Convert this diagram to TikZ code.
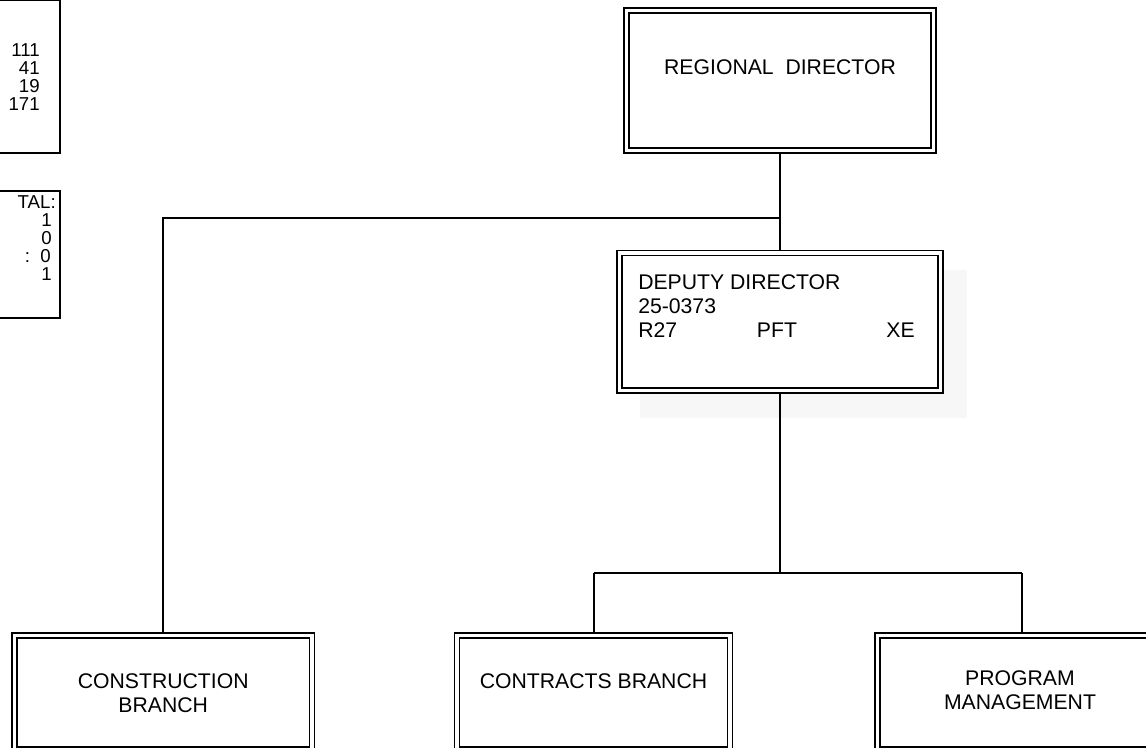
\documentclass[tikz,border=0pt]{standalone}
\usepackage{fontspec}
\setmainfont{Liberation Sans}
\usetikzlibrary{backgrounds}
\begin{document}
\begin{tikzpicture}[x=0.75pt,y=-0.75pt,
  conn/.style={line width=1.5pt, black},
  dbox/.style={draw, double, line width=1.25pt, double distance=2.5pt, fill=white, inner sep=0pt, outer sep=0pt},
  sbox/.style={draw, line width=1.1pt, fill=white, inner sep=0pt, outer sep=0pt},
  shade/.style={fill=black!3, draw=none, inner sep=0pt},
  lbl/.style={font=\fontsize{15.9}{18}\selectfont, inner sep=0pt},
  sml/.style={font=\fontsize{14}{14}\selectfont, inner sep=0pt, anchor=base east}]
\useasboundingbox (0,0) rectangle (1146,748);
\begin{scope}
\clip (0,0) rectangle (1146,748);
% left partial boxes
\node[sbox, minimum width={110*0.75pt}, minimum height={153*0.75pt}] (lb1) at (5,76.5) {};
\node[sbox, minimum width={110*0.75pt}, minimum height={127*0.75pt}] (lb2) at (5,254.5) {};
\node[sml] (n111) at (40,57) {111};
\node[sml] (n41) at (40,75) {41};
\node[sml] (n19) at (40,93) {19};
\node[sml] (n171) at (40,111) {171};
\node[sml] (ntal) at (56,208.5) {TAL:};
\node[sml] (na1) at (52,226.5) {1};
\node[sml] (na0) at (52,244.5) {0};
\node[sml] (nb0) at (51,262.5) {:~~0};
\node[sml] (nb1) at (52,280.5) {1};
% boxes
\node[dbox, minimum width={307*0.75pt}, minimum height={140*0.75pt}] (rd) at (780,80.5) {};
\node[dbox, minimum width={321*0.75pt}, minimum height={137.5*0.75pt}] (dd) at (780,321.75) {};
\node[dbox, minimum width={297.5*0.75pt}, minimum height={114*0.75pt}] (cb) at (163.25,692.5) {};
\node[dbox, minimum width={273*0.75pt}, minimum height={114*0.75pt}] (ct) at (593.5,692.5) {};
\node[dbox, minimum width={289*0.75pt}, minimum height={114*0.75pt}] (pm) at (1022,692.5) {};
% shadow and connectors behind
\begin{pgfonlayer}{background}
\node[shade, minimum width={327*0.75pt}, minimum height={148*0.75pt}] (sh) at (803.5,344) {};
\coordinate (j1) at (780,218);
\coordinate (j2) at (163.25,218);
\coordinate (j3) at (780,573);
\coordinate (j4) at (593.5,573);
\coordinate (j5) at (1022,573);
\draw[conn] (rd.south) -- (dd.north);
\draw[conn] (j1) -- (j2) -- (cb.north);
\draw[conn] (dd.south) -- (j3);
\draw[conn] (j4) -- (j5);
\draw[conn] (j4) -- (ct.north);
\draw[conn] (j5) -- (pm.north);
\end{pgfonlayer}
% texts
\node[lbl, anchor=base] (rdt) at (780,75) {REGIONAL~~DIRECTOR};
\node[lbl, anchor=base west] (dd1) at (638,289.5) {DEPUTY DIRECTOR};
\node[lbl, anchor=base west] (dd2) at (638,313.5) {25-0373};
\node[lbl, anchor=base west] (dd3) at (638,337.5) {R27};
\node[lbl, anchor=base] (dd4) at (777,337.5) {PFT};
\node[lbl, anchor=base east] (dd5) at (915,337.5) {XE};
\node[lbl, align=center] (cbt) at (163.25,692.7) {CONSTRUCTION\\BRANCH};
\node[lbl] (ctt) at (593.5,681) {CONTRACTS BRANCH};
\node[lbl, align=center] (pmt) at (1020,690.5) {PROGRAM\\MANAGEMENT};
\end{scope}
\end{tikzpicture}
\end{document}
